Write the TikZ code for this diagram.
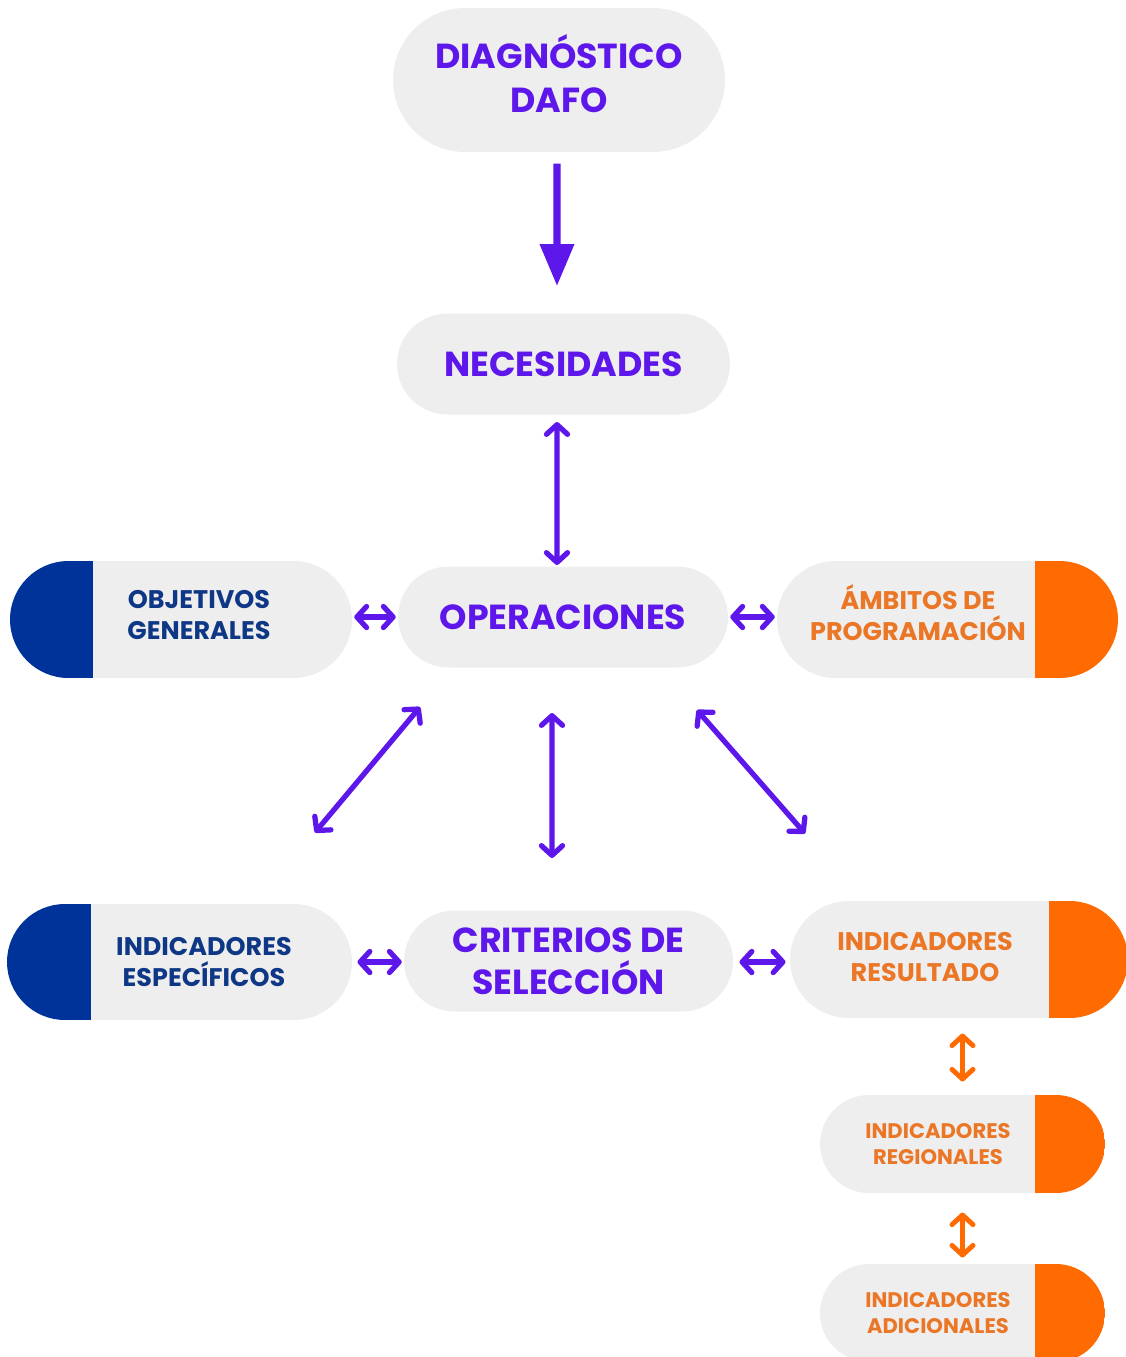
\documentclass[tikz,border=0pt]{standalone}
\usepackage{fontspec}
\setmainfont{Poppins}
\usetikzlibrary{arrows.meta,shapes.misc,positioning}

\definecolor{purp}{RGB}{94,23,235}
\definecolor{pillgray}{RGB}{238,238,238}
\definecolor{capblue}{RGB}{0,51,153}
\definecolor{navytext}{RGB}{14,56,133}
\definecolor{caporange}{RGB}{255,107,0}
\definecolor{orangetext}{RGB}{234,118,38}

\newcommand{\bigfont}{\fontsize{19.8}{25}\selectfont\bfseries}
\newcommand{\midfont}{\fontsize{14.5}{17.6}\selectfont\bfseries}
\newcommand{\smallfont}{\fontsize{12}{14.7}\selectfont\bfseries}

\begin{document}
\begin{tikzpicture}[x=0.02cm,y=-0.02cm,>={Straight Barb[round,length=5.5pt,width=12pt]},semithick]
  \useasboundingbox (0,0) rectangle (1126,1357);
  \tikzset{
    pill/.style={rounded rectangle,fill=pillgray,inner sep=0pt,align=center,font=\bigfont,text=purp},
    bluecap/.style={path picture={\fill[capblue] (path picture bounding box.north west) rectangle ([xshift=#1]path picture bounding box.south west);}},
    orangecap/.style={path picture={\fill[caporange] ([xshift=-#1]path picture bounding box.north east) rectangle (path picture bounding box.south east);}},
    link/.style={<->,draw=purp,line width=3pt},
    olink/.style={<->,draw=caporange,line width=2.8pt},
    fatarrow/.style={-{Triangle[length=0.84cm,width=0.66cm]},draw=purp,fill=purp,line width=4pt}
  }

  % centre column
  \node[pill,minimum width=6.64cm,minimum height=2.88cm,text depth=0.26cm] (diag) at (559,80) {DIAGNÓSTICO\\DAFO};
  \node[pill,minimum width=6.66cm,minimum height=2.02cm] (nec) at (563.5,364) {NECESIDADES};
  \node[pill,minimum width=6.6cm,minimum height=2.02cm] (oper) at (563,617) {OPERACIONES};
  \node[pill,minimum width=6.58cm,minimum height=2.02cm,font=\fontsize{19.8}{24}\selectfont\bfseries] (crit) at (568.5,961) {CRITERIOS DE\\SELECCIÓN};

  % side pills
  \node[pill,bluecap=1.66cm,minimum width=6.84cm,minimum height=2.34cm,
    label={[font=\midfont,text=navytext,align=center,xshift=0.36cm,yshift=0.09cm]center:{OBJETIVOS\\GENERALES}}] (obj) at (181,619.5) {};
  \node[pill,orangecap=1.66cm,minimum width=6.82cm,minimum height=2.34cm,
    label={[font=\midfont,text=orangetext,align=center,xshift=-0.59cm,yshift=0.13cm]center:{ÁMBITOS DE\\PROGRAMACIÓN}}] (amb) at (947.5,619.5) {};
  \node[pill,bluecap=1.68cm,minimum width=6.9cm,minimum height=2.32cm,
    label={[font=\midfont,text=navytext,align=center,xshift=0.49cm]center:{INDICADORES\\ESPECÍFICOS}}] (esp) at (179.5,962) {};
  \node[pill,orangecap=1.58cm,minimum width=6.76cm,minimum height=2.34cm,
    label={[font=\midfont,text=orangetext,align=center,xshift=-0.68cm,yshift=0.05cm]center:{INDICADORES\\RESULTADO}}] (res) at (959,959.5) {};
  \node[pill,orangecap=1.4cm,minimum width=5.7cm,minimum height=1.96cm,
    label={[font=\smallfont,text=orangetext,align=center,xshift=-0.49cm]center:{INDICADORES\\REGIONALES}}] (reg) at (962.5,1144) {};
  \node[pill,orangecap=1.4cm,minimum width=5.7cm,minimum height=1.96cm,
    label={[font=\smallfont,text=orangetext,align=center,xshift=-0.49cm]center:{INDICADORES\\ADICIONALES}}] (adi) at (962.5,1313) {};

  % arrows
  \draw[fatarrow,shorten <=0.22cm,shorten >=0.54cm] ([xshift=-0.04cm]diag.south) -- ([xshift=-0.13cm]nec.north);
  \draw[link,shorten <=0.14cm,shorten >=0.02cm] ([xshift=-0.13cm]nec.south) -- ([xshift=-0.12cm]oper.north);
  \draw[link,shorten <=1pt,shorten >=1pt] (oper.west -| obj.east) -- (oper.west);
  \draw[link,shorten <=1pt,shorten >=1pt] (oper.east) -- (oper.east -| amb.west);
  \draw[link] ([xshift=-2.86cm,yshift=-0.78cm]oper.south) -- ([xshift=2.71cm,yshift=1.42cm]esp.north);
  \draw[link] ([xshift=-0.22cm,yshift=-0.9cm]oper.south) -- ([xshift=-0.33cm,yshift=1.04cm]crit.north);
  \draw[link] ([xshift=2.68cm,yshift=-0.84cm]oper.south) -- ([xshift=-3.08cm,yshift=1.34cm]res.north);
  \draw[link,shorten <=0.1cm,shorten >=1pt] (esp.east) -- (esp.east -| crit.west);
  \draw[link,shorten <=0.12cm,shorten >=0.08cm] (crit.east |- esp.east) -- (esp.east -| res.west);
  \draw[olink,shorten <=0.3cm,shorten >=0.26cm] (res.south -| reg.north) -- (reg.north);
  \draw[olink,shorten <=0.38cm,shorten >=0.12cm] (reg.south) -- (adi.north);
\end{tikzpicture}
\end{document}
